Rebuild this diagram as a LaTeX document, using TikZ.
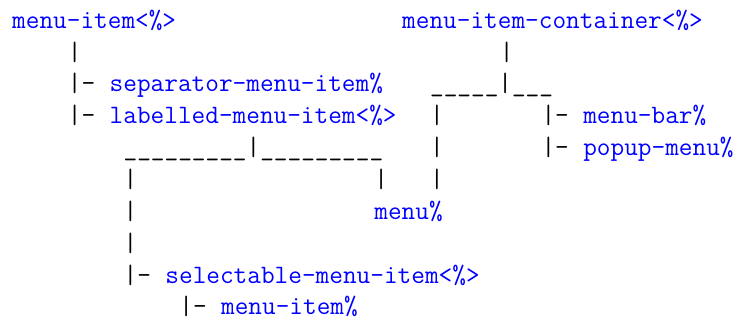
\documentclass[tikz,border=0pt]{standalone}
\begin{document}
\begin{tikzpicture}[x=1pt,y=-1pt,
  cell/.style={inner sep=0pt,outer sep=0pt,anchor=base west,font=\fontsize{26.53}{31.85}\selectfont\ttfamily},
  lbl/.style={cell,text=blue},
  tree/.style={cell,text=black}]
\useasboundingbox (0,0) rectangle (739,320);
\newcommand\cx[1]{12.2+#1*13.93}
\newcommand\ry[1]{28.3+#1*31.85}
% row 0
\node[lbl] (mi) at ({\cx{0}},{\ry{0}}) {menu-item<\%>};
\node[lbl] (mic) at ({\cx{28}},{\ry{0}}) {menu-item-container<\%>};
% row 1
\node[tree] (t1a) at ({\cx{4}},{\ry{1}}) {|};
\node[tree] (t1b) at ({\cx{35}},{\ry{1}}) {|};
% row 2
\node[tree] (t2a) at ({\cx{4}},{\ry{2}}) {|-};
\node[lbl] (smi) at ({\cx{7}},{\ry{2}}) {separator-menu-item\%};
\node[tree] (t2b) at ({\cx{30}},{\ry{2}}) {\_\_\_\_\_|\_\_\_};
% row 3
\node[tree] (t3a) at ({\cx{4}},{\ry{3}}) {|-};
\node[lbl] (lmi) at ({\cx{7}},{\ry{3}}) {labelled-menu-item<\%>};
\node[tree] (t3b) at ({\cx{30}},{\ry{3}}) {|};
\node[tree] (t3c) at ({\cx{38}},{\ry{3}}) {|-};
\node[lbl] (mb) at ({\cx{41}},{\ry{3}}) {menu-bar\%};
% row 4
\node[tree] (t4a) at ({\cx{8}},{\ry{4}}) {\_\_\_\_\_\_\_\_\_|\_\_\_\_\_\_\_\_\_};
\node[tree] (t4b) at ({\cx{30}},{\ry{4}}) {|};
\node[tree] (t4c) at ({\cx{38}},{\ry{4}}) {|-};
\node[lbl] (pm) at ({\cx{41}},{\ry{4}}) {popup-menu\%};
% row 5
\node[tree] (t5a) at ({\cx{8}},{\ry{5}}) {|};
\node[tree] (t5b) at ({\cx{26}},{\ry{5}}) {|};
\node[tree] (t5c) at ({\cx{30}},{\ry{5}}) {|};
% row 6
\node[tree] (t6a) at ({\cx{8}},{\ry{6}}) {|};
\node[lbl] (menu) at ({\cx{26}},{\ry{6}}) {menu\%};
% row 7
\node[tree] (t7a) at ({\cx{8}},{\ry{7}}) {|};
% row 8
\node[tree] (t8a) at ({\cx{8}},{\ry{8}}) {|-};
\node[lbl] (sel) at ({\cx{11}},{\ry{8}}) {selectable-menu-item<\%>};
% row 9
\node[tree] (t9a) at ({\cx{12}},{\ry{9}}) {|-};
\node[lbl] (mi2) at ({\cx{15}},{\ry{9}}) {menu-item\%};
\end{tikzpicture}
\end{document}
